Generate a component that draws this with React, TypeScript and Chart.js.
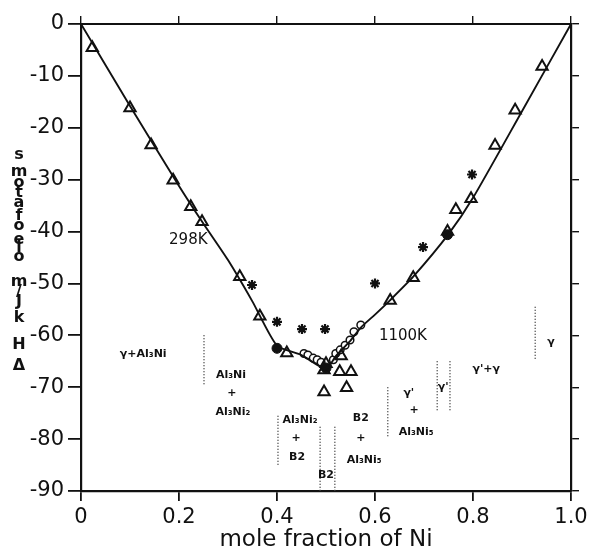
import React, { useEffect, useRef } from "react";
import { Chart, registerables } from "chart.js";

Chart.register(...registerables);

// ---- data ----
const lineX = [0, 0.1, 0.2, 0.25, 0.3, 0.35, 0.4, 0.45, 0.5, 0.52, 0.55, 0.571, 0.6, 0.63, 0.678, 0.75, 0.8, 0.9, 1.0];
const lineY = [0, -15.8, -31.2, -38.5, -45.5, -53.5, -62, -63.8, -66.5, -64, -61, -58.5, -56, -53.3, -48.7, -40.5, -33.5, -16.8, 0];

const triX = [0.023, 0.1, 0.143, 0.188, 0.224, 0.247, 0.324, 0.365, 0.42, 0.496, 0.5, 0.531, 0.528, 0.551, 0.496, 0.542, 0.631, 0.678, 0.748, 0.765, 0.796, 0.845, 0.886, 0.941];
const triY = [-4.6, -16.2, -23.3, -30.1, -35.2, -38.1, -48.7, -56.3, -63.4, -66.7, -65.5, -64, -67, -67, -70.9, -70.1, -53.3, -48.9, -40, -35.8, -33.7, -23.4, -16.6, -8.2];

const starX = [0.349, 0.4, 0.451, 0.498, 0.6, 0.698, 0.798];
const starY = [-50.3, -57.4, -58.8, -58.8, -50, -43, -29];

const openCircX = [0.455, 0.463, 0.474, 0.482, 0.49, 0.515, 0.52, 0.529, 0.539, 0.549, 0.557, 0.571];
const openCircY = [-63.5, -63.8, -64.4, -64.7, -65.2, -64.7, -63.5, -62.8, -61.9, -60.9, -59.3, -58];

const filledCircX = [0.4, 0.5, 0.748];
const filledCircY = [-62.5, -66.3, -40.6];

// phase-boundary dotted lines
const dottedX = [0.251, 0.402, 0.488, 0.518, 0.626, 0.727, 0.753, 0.927];
const dottedTop = [-60, -75.5, -77.6, -77.6, -70, -65, -65, -54.5];
const dottedBottom = [-69.6, -85, -90, -90, -79.5, -74.8, -74.8, -64.7];

// phase labels
const phaseText = ["γ+Al₃Ni", "Al₃Ni", "+", "Al₃Ni₂", "Al₃Ni₂", "+", "B2", "B2", "B2", "+", "Al₃Ni₅", "γ'", "+", "Al₃Ni₅", "γ'", "γ'+γ", "γ"];
const phaseX = [0.127, 0.306, 0.308, 0.31, 0.447, 0.439, 0.441, 0.5, 0.571, 0.571, 0.578, 0.669, 0.68, 0.684, 0.739, 0.827, 0.959];
const phaseY = [-63.6, -67.6, -71.1, -74.8, -76.3, -79.8, -83.4, -86.9, -76, -79.8, -84, -71.1, -74.4, -78.6, -69.9, -66.5, -61.3];

const tempText = ["298K", "1100K"];
const tempX = [0.219, 0.657];
const tempY = [-41.6, -60.1];

const xTicks = [0, 0.2, 0.4, 0.6, 0.8, 1.0];
const xTickLabels = ["0", "0.2", "0.4", "0.6", "0.8", "1.0"];

// stacked y-axis title characters (as printed)
const yTitleChars = ["s", "m", "o", "t", "a", "f", "o", "e", "l", "o", "m", "/", "J", "k", "H", "Δ"];
const yTitleOffsets = [155, 172, 183, 193, 203, 216, 226, 240, 248, 257, 282, 292, 302, 318, 345, 366];

const pts = (xs: number[], ys: number[]) => xs.map((x, i) => ({ x, y: ys[i] }));

export default function App() {
  const ref = useRef<HTMLCanvasElement | null>(null);
  useEffect(() => {
    document.body.style.margin = "0";
    const canvas = ref.current;
    if (!canvas) return;

    const dottedSets = dottedX.map((x, i) => ({
      type: "line" as const,
      data: [
        { x, y: dottedTop[i] },
        { x, y: dottedBottom[i] },
      ],
      borderColor: "#444",
      borderWidth: 1.5,
      borderDash: [1, 2],
      pointRadius: 0,
      showLine: true,
    }));

    const textPlugin = {
      id: "texts",
      afterDatasetsDraw(chart: any) {
        const ctx = chart.ctx;
        const xs = chart.scales.x;
        const ys = chart.scales.y;
        ctx.save();
        ctx.fillStyle = "#111";
        ctx.textAlign = "center";
        ctx.textBaseline = "middle";
        ctx.font = "bold 11px 'DejaVu Sans'";
        phaseText.forEach((t, i) => {
          ctx.fillText(t, xs.getPixelForValue(phaseX[i]), ys.getPixelForValue(phaseY[i]));
        });
        ctx.font = "15px 'DejaVu Sans'";
        tempText.forEach((t, i) => {
          ctx.fillText(t, xs.getPixelForValue(tempX[i]), ys.getPixelForValue(tempY[i]));
        });
        ctx.font = "bold 16px 'DejaVu Sans'";
        yTitleChars.forEach((c, i) => {
          ctx.fillText(c, 19, yTitleOffsets[i]);
        });
        ctx.restore();
      },
    };

    const chart = new Chart(canvas, {
      type: "scatter",
      data: {
        datasets: [
          ...dottedSets,
          {
            type: "line",
            data: pts(lineX, lineY),
            borderColor: "#111",
            borderWidth: 1.9,
            pointRadius: 0,
            tension: 0.2,
            showLine: true,
          },
          {
            data: pts(triX, triY),
            pointStyle: "triangle",
            pointRadius: 6.5,
            borderColor: "#111",
            backgroundColor: "rgba(0,0,0,0)",
            borderWidth: 2,
          },
          {
            data: pts(starX, starY),
            pointStyle: "star",
            pointRadius: 5,
            borderColor: "#111",
            borderWidth: 2.2,
          },
          {
            data: pts(openCircX, openCircY),
            pointStyle: "circle",
            pointRadius: 3.8,
            borderColor: "#111",
            backgroundColor: "#fff",
            borderWidth: 1.5,
          },
          {
            data: pts(filledCircX, filledCircY),
            pointStyle: "circle",
            pointRadius: 5,
            borderColor: "#111",
            backgroundColor: "#111",
            borderWidth: 1,
          },
        ] as any,
      },
      options: {
        animation: false,
        responsive: true,
        maintainAspectRatio: false,
        layout: { padding: 0 },
        plugins: { legend: { display: false }, tooltip: { enabled: false } },
        scales: {
          x: {
            type: "linear",
            position: "bottom",
            min: 0,
            max: 1,
            afterBuildTicks: (s: any) => {
              s.ticks = xTicks.map((v) => ({ value: v }));
            },
            afterFit: (s: any) => {
              s.height = 67;
            },
            ticks: {
              color: "#111",
              padding: 4,
              font: { family: "'DejaVu Sans'", size: 21 },
              callback: (v: any) => xTickLabels[xTicks.indexOf(Number(v))] ?? "",
            },
            grid: { drawOnChartArea: false, drawTicks: true, tickLength: 10, color: "#111", lineWidth: 1.8 },
            border: { display: true, color: "#111", width: 2.2 },
            title: {
              display: true,
              text: "mole fraction of Ni",
              color: "#111",
              font: { family: "'DejaVu Sans'", size: 23 },
              padding: { top: 0, bottom: 4 },
            },
          },
          x2: {
            type: "linear",
            position: "top",
            min: 0,
            max: 1,
            afterBuildTicks: (s: any) => {
              s.ticks = xTicks.map((v) => ({ value: v }));
            },
            afterFit: (s: any) => {
              s.height = 24;
            },
            ticks: { display: false },
            grid: { drawOnChartArea: false, drawTicks: true, tickLength: 8, color: "#111", lineWidth: 1.4 },
            border: { display: true, color: "#111", width: 2 },
          },
          y: {
            type: "linear",
            position: "left",
            min: -90,
            max: 0,
            afterFit: (s: any) => {
              s.width = 81;
            },
            ticks: {
              stepSize: 10,
              color: "#111",
              padding: 4,
              font: { family: "'DejaVu Sans'", size: 21 },
            },
            grid: { drawOnChartArea: false, drawTicks: true, tickLength: 13, color: "#111", lineWidth: 1.8 },
            border: { display: true, color: "#111", width: 2.2 },
          },
          y2: {
            type: "linear",
            position: "right",
            min: -90,
            max: 0,
            afterFit: (s: any) => {
              s.width = 21;
            },
            ticks: { display: false, stepSize: 10 },
            grid: { drawOnChartArea: false, drawTicks: true, tickLength: 8, color: "#111", lineWidth: 1.4 },
            border: { display: true, color: "#111", width: 2.2 },
          },
        },
      } as any,
      plugins: [textPlugin],
    });
    return () => chart.destroy();
  }, []);

  return (
    <div style={{ position: "fixed", left: 0, top: 0, width: 592, height: 558, background: "#fff" }}>
      <canvas ref={ref} />
    </div>
  );
}
